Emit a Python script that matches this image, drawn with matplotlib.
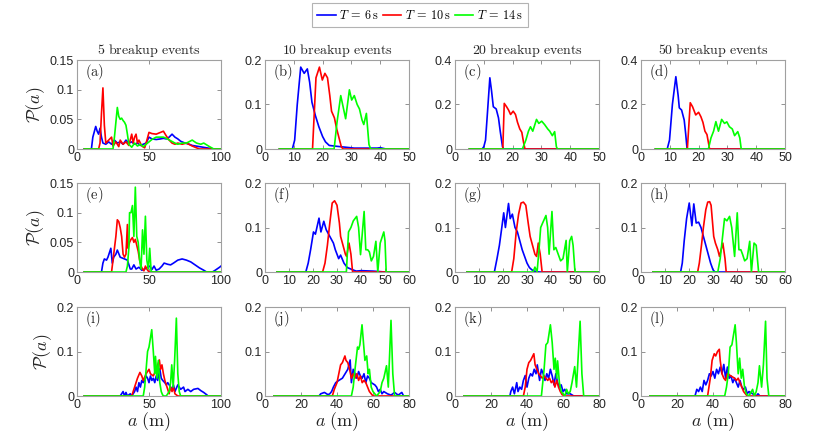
import numpy as np
import matplotlib
matplotlib.use('Agg')
import matplotlib.pyplot as plt

plt.rcParams['font.family'] = 'Liberation Sans'
plt.rcParams['mathtext.fontset'] = 'cm'

# legend / series
series_labels = [r'$T\:=\:6\,\mathrm{s}$', r'$T\:=\:10\,\mathrm{s}$', r'$T\:=\:14\,\mathrm{s}$']
series_colors = ['#0000ff', '#ff0000', '#00ff00']
col_titles = ['5 breakup events', '10 breakup events', '20 breakup events', '50 breakup events']
panel_letters = ['a', 'b', 'c', 'd', 'e', 'f', 'g', 'h', 'i', 'j', 'k', 'l']

# axis limits and ticks, one entry per row
row_xmax = [[100, 50, 50, 50], [100, 60, 60, 60], [100, 80, 80, 80]]
row_ymax = [[0.15, 0.2, 0.4, 0.4], [0.15, 0.2, 0.2, 0.2], [0.2, 0.2, 0.2, 0.2]]
row_xticks = [[[0, 50, 100]] + [[0, 10, 20, 30, 40, 50]] * 3,
              [[0, 50, 100]] + [[0, 10, 20, 30, 40, 50, 60]] * 3,
              [[0, 50, 100]] + [[0, 20, 40, 60, 80]] * 3]
row_yticks = [[[0, 0.05, 0.1, 0.15], [0, 0.1, 0.2], [0, 0.2, 0.4], [0, 0.2, 0.4]],
              [[0, 0.05, 0.1, 0.15], [0, 0.1, 0.2], [0, 0.1, 0.2], [0, 0.1, 0.2]],
              [[0, 0.1, 0.2]] * 4]

# ---- (a) ----
a_b_x = [5, 10, 11, 13, 14, 15, 16, 17, 18, 20, 22, 24, 26, 28, 30, 32, 34, 36, 38, 40, 42, 44, 46, 48, 50, 52, 55, 58, 60, 62, 64, 66, 68, 70, 72, 75, 78, 80, 85, 90, 95, 100]
a_b_y = [0, 0, 0.02, 0.038, 0.03, 0.025, 0.035, 0.02, 0.01, 0.008, 0.012, 0.008, 0.015, 0.01, 0.012, 0.008, 0.015, 0.01, 0.012, 0.008, 0.01, 0.006, 0.008, 0.01, 0.02, 0.017, 0.016, 0.017, 0.018, 0.017, 0.02, 0.025, 0.02, 0.017, 0.013, 0.01, 0.008, 0.006, 0.004, 0.002, 0, 0]
a_r_x = [5, 15, 16, 17, 18, 19, 20, 22, 24, 25, 27, 29, 30, 32, 34, 36, 38, 39, 40, 41, 42, 43, 45, 47, 48, 50, 52, 55, 58, 60, 62, 64, 66, 68, 70, 73, 76, 80, 85, 100]
a_r_y = [0, 0, 0.01, 0.06, 0.103, 0.04, 0.01, 0.015, 0.02, 0.005, 0.012, 0.004, 0.015, 0.008, 0.012, 0.006, 0.025, 0.01, 0.02, 0.025, 0.01, 0.015, 0.005, 0.002, 0.01, 0.028, 0.026, 0.025, 0.028, 0.03, 0.022, 0.015, 0.01, 0.008, 0.01, 0.008, 0.01, 0.005, 0, 0]
a_g_x = [5, 25, 26, 27, 28, 29, 30, 31, 32, 33, 34, 35, 36, 38, 40, 42, 44, 46, 48, 50, 52, 55, 58, 60, 62, 65, 68, 70, 73, 76, 80, 83, 86, 88, 90, 92, 95, 100]
a_g_y = [0, 0, 0.02, 0.045, 0.07, 0.055, 0.05, 0.052, 0.048, 0.045, 0.04, 0.025, 0.008, 0.003, 0.01, 0.005, 0.008, 0.004, 0.008, 0.012, 0.016, 0.02, 0.02, 0.02, 0.018, 0.014, 0.01, 0.008, 0.01, 0.01, 0.015, 0.01, 0.008, 0.01, 0.007, 0.004, 0, 0]

# ---- (b) ----
b_b_x = [5, 9.5, 10.3, 11.2, 12.4, 13.6, 14.7, 15.5, 16.3, 17.5, 18.7, 20, 21, 22.3, 25, 28, 31, 35, 39, 40, 42, 50]
b_b_y = [0, 0, 0.02, 0.1, 0.184, 0.17, 0.18, 0.15, 0.105, 0.075, 0.05, 0.028, 0.016, 0.008, 0.006, 0.004, 0.002, 0.002, 0.002, 0.003, 0, 0]
b_r_x = [5, 16.5, 17.7, 18.9, 19.9, 20.8, 21.7, 22.5, 23.1, 24.1, 24.9, 25.9, 26.5, 27.1, 50]
b_r_y = [0, 0, 0.16, 0.184, 0.155, 0.17, 0.16, 0.12, 0.085, 0.07, 0.045, 0.02, 0.005, 0, 0]
b_g_x = [5, 24, 25, 26.3, 28, 29.3, 30.1, 31, 32, 32.8, 33.7, 34.3, 35.2, 36.1, 36.7, 50]
b_g_y = [0, 0, 0.06, 0.12, 0.068, 0.133, 0.11, 0.12, 0.1, 0.09, 0.065, 0.055, 0.08, 0.01, 0, 0]

# ---- (c) ----
c_b_x = [5, 9.4, 10, 10.6, 11.2, 12.1, 12.7, 13.3, 14.3, 15.1, 15.7, 16.5, 16.9, 50]
c_b_y = [0, 0, 0.01, 0.04, 0.15, 0.32, 0.26, 0.19, 0.18, 0.14, 0.08, 0.01, 0, 0]
c_r_x = [5, 16.6, 17.1, 17.9, 18.6, 19.3, 20.2, 21, 21.7, 22.5, 23.2, 23.8, 24.3, 50]
c_r_y = [0, 0, 0.205, 0.19, 0.175, 0.155, 0.17, 0.155, 0.12, 0.09, 0.075, 0.03, 0, 0]
c_g_x = [5, 23.4, 24.6, 25.5, 26.2, 27, 28.3, 29.1, 30.1, 31.1, 32.2, 32.9, 33.8, 34.6, 35.2, 35.6, 50]
c_g_y = [0, 0, 0.04, 0.08, 0.1, 0.08, 0.133, 0.115, 0.125, 0.11, 0.09, 0.08, 0.06, 0.078, 0.01, 0, 0]

# ---- (d) ----
d_b_x = [5, 9.1, 9.9, 10.9, 12.1, 12.9, 13.3, 14.1, 15, 15.5, 16, 50]
d_b_y = [0, 0, 0.04, 0.2, 0.325, 0.24, 0.185, 0.175, 0.13, 0.07, 0, 0]
d_r_x = [5, 16.1, 17.1, 17.9, 19, 20, 20.8, 21.5, 22.2, 22.9, 23.4, 23.8, 50]
d_r_y = [0, 0, 0.208, 0.19, 0.153, 0.165, 0.145, 0.12, 0.08, 0.065, 0.03, 0, 0]
d_g_x = [5, 23.4, 24.3, 25.2, 26, 26.9, 28, 29, 29.8, 30.7, 31.7, 32.5, 33.6, 34.3, 34.8, 50]
d_g_y = [0, 0, 0.05, 0.08, 0.123, 0.08, 0.133, 0.115, 0.122, 0.1, 0.09, 0.06, 0.078, 0.05, 0, 0]

# ---- (e) ----
e_b_x = [5, 17, 18, 19, 20.5, 21.5, 23.5, 24.5, 25.5, 27, 28, 30, 33, 35, 37, 38, 39.5, 41, 43, 45, 47, 49, 50.5, 52, 53.5, 55, 57, 59, 60.5, 63, 65, 67, 70, 73, 76, 79, 82, 85, 88, 90, 94, 96, 99, 100]
e_b_y = [0, 0, 0.015, 0.022, 0.02, 0.025, 0.04, 0.015, 0.025, 0.03, 0.037, 0.025, 0.022, 0.02, 0.005, 0.005, 0.012, 0.005, 0.008, 0.003, 0.005, 0.008, 0.01, 0.004, 0.01, 0.003, 0.005, 0.01, 0.015, 0.013, 0.012, 0.015, 0.02, 0.022, 0.02, 0.017, 0.012, 0.007, 0.003, 0, 0, 0.003, 0.008, 0.01]
e_r_x = [5, 24, 25, 27, 28, 29, 30, 31, 32, 33, 34, 35, 35.5, 36.5, 37.5, 38.5, 39.5, 40.5, 41.5, 42.5, 43.5, 44.5, 45.5, 46.5, 47.5, 48.5, 50, 100]
e_r_y = [0, 0, 0.02, 0.06, 0.088, 0.085, 0.075, 0.06, 0.03, 0.025, 0.03, 0.08, 0.04, 0.05, 0.055, 0.058, 0.05, 0.055, 0.045, 0.035, 0.02, 0.01, 0.005, 0.002, 0.01, 0.005, 0, 0]
e_g_x = [5, 34, 35, 36, 36.5, 37.5, 38.5, 39.5, 40.5, 41.5, 42.5, 43.5, 44.5, 45.5, 46.5, 47.5, 48.5, 49.5, 50.5, 51.5, 100]
e_g_y = [0, 0, 0.01, 0.04, 0.1, 0.1, 0.112, 0.06, 0.143, 0.06, 0.05, 0.02, 0.005, 0.071, 0.03, 0.094, 0.02, 0.005, 0.04, 0, 0]

# ---- (f) ----
f_b_x = [5, 17, 18, 19, 20.2, 21, 22.5, 23.3, 24.5, 25.5, 26.5, 27.5, 28.5, 29.3, 30.7, 31.5, 32.9, 34.3, 36.5, 38, 40, 45, 50, 60]
f_b_y = [0, 0, 0.02, 0.05, 0.09, 0.085, 0.121, 0.09, 0.114, 0.095, 0.085, 0.075, 0.065, 0.05, 0.03, 0.038, 0.02, 0.01, 0.005, 0.002, 0.003, 0.002, 0, 0]
f_r_x = [5, 24, 25, 26, 27, 28, 29, 30, 31, 31.5, 32.5, 33.5, 34, 35, 35.8, 36.5, 60]
f_r_y = [0, 0, 0.02, 0.06, 0.11, 0.155, 0.16, 0.15, 0.11, 0.08, 0.06, 0.04, 0.035, 0.065, 0.04, 0, 0]
f_g_x = [5, 33.9, 34.8, 35.8, 36.8, 38.2, 39, 39.8, 41.3, 42, 42.8, 43.5, 44.3, 45.2, 46.2, 47, 48, 49.5, 50, 50.5, 60]
f_g_y = [0, 0, 0.09, 0.1, 0.115, 0.125, 0.1, 0.039, 0.136, 0.05, 0.05, 0.045, 0.025, 0.035, 0.069, 0, 0.065, 0.09, 0.07, 0, 0]

# ---- (g) ----
g_b_x = [5, 16.4, 17.5, 18.5, 19.5, 20.3, 21, 22.3, 23, 23.9, 25, 26, 27, 28, 29, 30, 31, 32, 33, 35, 60]
g_b_y = [0, 0, 0.03, 0.06, 0.1, 0.133, 0.1, 0.154, 0.12, 0.13, 0.1, 0.09, 0.07, 0.05, 0.035, 0.02, 0.01, 0.005, 0.002, 0, 0]
g_r_x = [5, 23.6, 24.5, 25.5, 26.5, 27.5, 28.5, 29.5, 30.5, 31.3, 32.3, 33.3, 34, 34.7, 35.5, 36.3, 60]
g_r_y = [0, 0, 0.03, 0.09, 0.13, 0.155, 0.157, 0.15, 0.11, 0.08, 0.06, 0.04, 0.035, 0.065, 0.04, 0, 0]
g_g_x = [5, 32.5, 33.3, 34.2, 35, 35.7, 36.5, 37.9, 38.6, 39.2, 40.4, 41.2, 42, 43, 44, 45, 46.3, 46.8, 47.8, 48.6, 49.2, 50, 60]
g_g_y = [0, 0, 0.011, 0, 0.05, 0.1, 0.11, 0.127, 0.1, 0.04, 0.136, 0.05, 0.055, 0.04, 0.025, 0.03, 0.071, 0, 0.07, 0.08, 0.06, 0, 0]

# ---- (h) ----
h_b_x = [5, 16.5, 17.2, 18, 19, 20.1, 21.2, 22, 23, 24, 25, 26, 27, 28, 29, 30, 30.8, 60]
h_b_y = [0, 0, 0.02, 0.07, 0.12, 0.155, 0.104, 0.153, 0.11, 0.112, 0.1, 0.08, 0.06, 0.04, 0.02, 0.005, 0, 0]
h_r_x = [5, 23.6, 24.3, 25.2, 26, 27, 27.8, 28.6, 29.2, 30.3, 31, 32, 32.7, 34.1, 35, 35.5, 60]
h_r_y = [0, 0, 0.02, 0.06, 0.1, 0.14, 0.157, 0.158, 0.15, 0.08, 0.065, 0.05, 0.035, 0.065, 0.03, 0, 0]
h_g_x = [5, 32, 33, 33.8, 34.8, 35.8, 36.9, 37.8, 39, 40.1, 40.8, 41.6, 42.3, 43.2, 44.2, 45.3, 46, 47.1, 48, 49, 60]
h_g_y = [0, 0, 0.03, 0.07, 0.12, 0.115, 0.125, 0.1, 0.035, 0.133, 0.05, 0.05, 0.04, 0.025, 0.03, 0.069, 0, 0.065, 0.06, 0, 0]

# ---- (i) ----
i_b_x = [5, 30, 31, 32, 33, 34, 35, 37, 38, 39, 40, 41, 42, 43, 44, 45, 46, 47, 48, 49, 50, 51, 52, 53, 54, 55, 56, 57.5, 58.5, 59.5, 61, 62, 63, 65, 66, 67, 68, 70, 72, 74, 75, 77, 79, 81, 84, 86, 88, 90, 91, 100]
i_b_y = [0, 0, 0.005, 0.01, 0, 0.008, 0, 0.005, 0, 0.005, 0.01, 0.02, 0.01, 0.03, 0.02, 0.035, 0.03, 0.035, 0.045, 0.04, 0.03, 0.045, 0.035, 0.04, 0.03, 0.045, 0.035, 0.061, 0.04, 0.035, 0.03, 0.025, 0.03, 0.02, 0.015, 0.025, 0.01, 0.025, 0.015, 0.02, 0.01, 0.015, 0.01, 0.015, 0.017, 0.012, 0.008, 0.003, 0, 0]
i_r_x = [5, 38, 39, 40, 41, 42, 43.7, 45, 46, 48, 50, 51, 53, 55, 57.2, 58, 59, 60, 61, 62, 63, 64, 65, 66, 67, 68, 70, 100]
i_r_y = [0, 0, 0.01, 0.02, 0.03, 0.04, 0.053, 0.045, 0.035, 0.05, 0.06, 0.05, 0.045, 0.06, 0.081, 0.06, 0.07, 0.05, 0.035, 0.025, 0.015, 0.005, 0.02, 0.01, 0.02, 0.005, 0, 0]
i_g_x = [5, 46, 47, 48, 49, 50, 51.9, 53, 54, 54.5, 55.5, 56.5, 57.5, 58.5, 59.5, 60.5, 62, 64, 65, 65.8, 66.8, 67.8, 69, 70, 71, 72, 100]
i_g_y = [0, 0, 0.02, 0.06, 0.1, 0.11, 0.149, 0.1, 0.05, 0.089, 0.04, 0.08, 0.03, 0.01, 0.002, 0, 0, 0.01, 0.03, 0.07, 0.02, 0.08, 0.175, 0.05, 0.01, 0, 0]

# ---- (j) ----
j_b_x = [5, 30, 31, 33, 35, 36, 37, 38, 39.3, 41, 43, 44.5, 46, 47.3, 48, 49, 50, 51, 52, 53, 54, 55, 56, 57, 58, 59, 61, 62, 63, 64, 65, 66, 68, 70, 72, 74, 76, 77, 80]
j_b_y = [0, 0, 0.005, 0.008, 0.003, 0.005, 0.01, 0.02, 0.03, 0.035, 0.04, 0.05, 0.06, 0.081, 0.03, 0.06, 0.05, 0.04, 0.055, 0.045, 0.04, 0.05, 0.03, 0.045, 0.04, 0.03, 0.025, 0.02, 0.01, 0.015, 0.005, 0.01, 0.005, 0.002, 0.008, 0.002, 0.008, 0, 0]
j_r_x = [5, 37.4, 38.5, 40, 41, 42, 43, 44.4, 45, 46, 47, 48, 49, 50, 51, 52, 53, 54, 55, 56, 57, 58, 59, 60, 80]
j_r_y = [0, 0, 0.015, 0.03, 0.05, 0.07, 0.075, 0.09, 0.08, 0.075, 0.06, 0.04, 0.05, 0.04, 0.05, 0.035, 0.045, 0.03, 0.035, 0.03, 0.02, 0.01, 0.005, 0, 0]
j_g_x = [5, 48, 49, 50, 51.4, 52, 52.7, 53.9, 54.7, 55.5, 56.5, 57.3, 58, 59, 60, 61, 62, 63, 64, 65, 66, 67.5, 68.5, 70, 71, 72, 80]
j_g_y = [0, 0, 0.02, 0.06, 0.11, 0.105, 0.115, 0.16, 0.12, 0.08, 0.09, 0.05, 0.06, 0.02, 0.01, 0.005, 0, 0.005, 0.01, 0.03, 0.04, 0.068, 0.02, 0.17, 0.05, 0, 0]

# ---- (k) ----
k_b_x = [5, 30.5, 31, 32, 33, 34.3, 35, 36, 37, 38, 39, 40, 41, 42, 43, 44, 45, 45.7, 47, 48, 49, 50, 51, 52, 53, 54, 55, 56, 57, 58, 59, 60, 61, 62, 64, 66, 80]
k_b_y = [0, 0, 0.01, 0.02, 0.005, 0.03, 0.01, 0.02, 0.015, 0.035, 0.046, 0.02, 0.04, 0.05, 0.045, 0.06, 0.05, 0.07, 0.035, 0.06, 0.05, 0.035, 0.05, 0.04, 0.06, 0.045, 0.025, 0.05, 0.03, 0.02, 0.025, 0.01, 0.015, 0.005, 0.005, 0, 0]
k_r_x = [5, 38, 39, 40, 41, 42, 43.8, 44.5, 45.5, 46.5, 47.5, 48.5, 49.5, 50.5, 51.5, 52.5, 53.5, 54.5, 55.5, 56.5, 57.5, 58.5, 59.5, 61, 80]
k_r_y = [0, 0, 0.02, 0.06, 0.075, 0.08, 0.095, 0.07, 0.06, 0.05, 0.045, 0.04, 0.045, 0.04, 0.035, 0.04, 0.03, 0.035, 0.02, 0.035, 0.02, 0.01, 0.003, 0, 0]
k_g_x = [5, 48, 48.5, 49.5, 50.5, 51.5, 53, 54, 55, 55.7, 56.5, 57, 58, 59, 60, 61, 62, 63, 64, 65, 66.5, 67.5, 69.5, 70.5, 71.5, 80]
k_g_y = [0, 0, 0.02, 0.06, 0.115, 0.12, 0.16, 0.12, 0.06, 0.085, 0.04, 0.079, 0.03, 0.01, 0.005, 0, 0.015, 0.005, 0.01, 0.03, 0.066, 0.02, 0.168, 0.05, 0, 0]

# ---- (l) ----
l_b_x = [5, 30, 31, 32, 33, 34, 35, 36, 37, 38, 39, 40, 41, 42, 43, 44, 45, 46, 47, 48, 49, 50, 51, 52, 53, 54, 55, 56, 57, 58, 59, 60, 62, 64, 65, 66, 80]
l_b_y = [0, 0, 0.015, 0.01, 0.02, 0.01, 0.035, 0.025, 0.035, 0.05, 0.045, 0.055, 0.04, 0.06, 0.05, 0.065, 0.05, 0.071, 0.04, 0.065, 0.04, 0.045, 0.03, 0.04, 0.03, 0.02, 0.035, 0.02, 0.015, 0.02, 0.005, 0.01, 0.005, 0, 0.005, 0, 0]
l_r_x = [5, 37, 38.5, 39.5, 40.7, 41.5, 42.5, 43.5, 44, 45, 46, 47, 48, 50, 52, 53, 54, 55, 56, 57, 58, 59, 80]
l_r_y = [0, 0, 0.04, 0.08, 0.095, 0.09, 0.1, 0.105, 0.08, 0.05, 0.04, 0.035, 0.05, 0.045, 0.04, 0.035, 0.04, 0.03, 0.02, 0.01, 0.005, 0, 0]
l_g_x = [5, 46.5, 47.5, 48.5, 49.5, 50.5, 52.3, 53, 54, 54.8, 55.7, 56.5, 57.5, 58.5, 60, 62, 63, 64, 65, 65.8, 67, 68, 69.2, 70, 71, 80]
l_g_y = [0, 0, 0.02, 0.05, 0.11, 0.115, 0.16, 0.12, 0.05, 0.085, 0.04, 0.06, 0.02, 0.005, 0, 0.015, 0, 0.01, 0.03, 0.068, 0.02, 0.07, 0.168, 0.04, 0, 0]

curves = [
    [(a_b_x, a_b_y), (a_r_x, a_r_y), (a_g_x, a_g_y)],
    [(b_b_x, b_b_y), (b_r_x, b_r_y), (b_g_x, b_g_y)],
    [(c_b_x, c_b_y), (c_r_x, c_r_y), (c_g_x, c_g_y)],
    [(d_b_x, d_b_y), (d_r_x, d_r_y), (d_g_x, d_g_y)],
    [(e_b_x, e_b_y), (e_r_x, e_r_y), (e_g_x, e_g_y)],
    [(f_b_x, f_b_y), (f_r_x, f_r_y), (f_g_x, f_g_y)],
    [(g_b_x, g_b_y), (g_r_x, g_r_y), (g_g_x, g_g_y)],
    [(h_b_x, h_b_y), (h_r_x, h_r_y), (h_g_x, h_g_y)],
    [(i_b_x, i_b_y), (i_r_x, i_r_y), (i_g_x, i_g_y)],
    [(j_b_x, j_b_y), (j_r_x, j_r_y), (j_g_x, j_g_y)],
    [(k_b_x, k_b_y), (k_r_x, k_r_y), (k_g_x, k_g_y)],
    [(l_b_x, l_b_y), (l_r_x, l_r_y), (l_g_x, l_g_y)],
]

W, H = 830, 436
fig = plt.figure(figsize=(W / 100, H / 100), dpi=100)

col_left = [77, 265, 455, 641]
row_top = [60, 183, 307]
ax_w, ax_h = 144, 89

lines = []
for r in range(3):
    for c in range(4):
        k = r * 4 + c
        ax = fig.add_axes([col_left[c] / W, 1 - (row_top[r] + ax_h) / H, ax_w / W, ax_h / H])
        for (xs, ys), col in zip(curves[k], series_colors):
            ln, = ax.plot(xs, ys, color=col, lw=1.2)
            if k == 0:
                lines.append(ln)
        ax.set_xlim(0, row_xmax[r][c])
        ax.set_ylim(0, row_ymax[r][c])
        ax.set_xticks(row_xticks[r][c])
        ax.set_yticks(row_yticks[r][c])
        ax.set_xticklabels([f'{v:g}' for v in row_xticks[r][c]])
        ax.set_yticklabels([f'{v:g}' for v in row_yticks[r][c]])
        ax.tick_params(direction='in', top=True, right=True, length=3, width=0.6,
                       color='#808080', labelcolor='#262626', labelsize=9, pad=2)
        for sp in ax.spines.values():
            sp.set_color('#a0a0a0')
            sp.set_linewidth(0.8)
        ax.text(0.055, 0.86, r'$\mathrm{(' + panel_letters[k] + ')}$', transform=ax.transAxes,
                fontsize=10.5, color='#262626', va='center', ha='left')
        if r == 0:
            ax.set_title(r'$\mathrm{' + col_titles[c].replace(' ', r'\ ') + '}$',
                         fontsize=10, pad=4, color='#262626')
        if c == 0:
            ax.set_ylabel(r'$\mathcal{P}(a)$', fontsize=13, labelpad=2, color='#262626')
        if r == 2:
            ax.set_xlabel(r'$a\ (\mathrm{m})$', fontsize=13, labelpad=0, color='#262626')

leg = fig.legend(lines, series_labels, loc='upper center', bbox_to_anchor=(0.506, 0.998),
                 ncol=3, fontsize=8.8, frameon=True, fancybox=False, handlelength=1.5,
                 handletextpad=0.3, columnspacing=0.3, borderpad=0.45, borderaxespad=0.2)
leg.get_frame().set_edgecolor('#a0a0a0')
leg.get_frame().set_linewidth(0.8)

fig.savefig('out.png', dpi=100)
